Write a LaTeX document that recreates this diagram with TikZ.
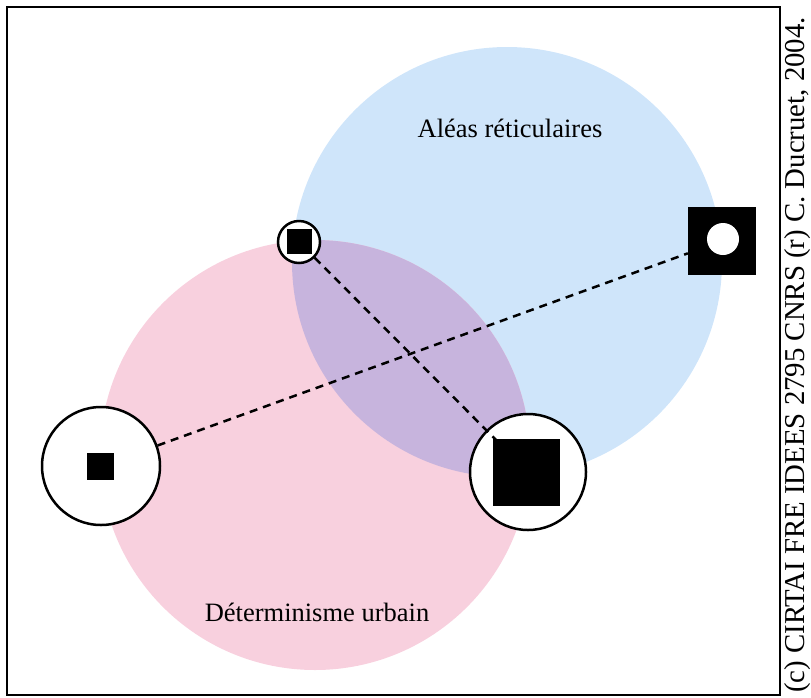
\documentclass[tikz,border=0pt]{standalone}
\usepackage{fontspec}
\setmainfont{Liberation Serif}
\definecolor{blueC}{RGB}{207,229,250}
\definecolor{pinkC}{RGB}{248,208,222}
\definecolor{mixC}{RGB}{199,180,221}
\tikzset{
  ring/.style={circle, draw=black, line width=2.5pt, fill=white, inner sep=0pt},
  sqbox/.style={rectangle, fill=black, inner sep=0pt},
  hole/.style={circle, fill=white, inner sep=0pt},
  link/.style={line width=2.5pt, dash pattern=on 8pt off 6pt},
  label/.style={font=\fontsize{26.5}{30}\selectfont, anchor=base},
}
\begin{document}
\begin{tikzpicture}[x=1pt,y=-1pt]
\useasboundingbox (0,0) rectangle (811,697);
% zones
\fill[blueC] (507,262) circle (215);
\fill[pinkC] (315,455) circle (215);
\begin{scope}
  \clip (507,262) circle (215);
  \fill[mixC] (315,455) circle (215);
\end{scope}
% frame
\draw[line width=2.5pt] (7,7) rectangle (780,695);
% labels
\node[label] (alea) at (510,137) {Aléas réticulaires};
\node[label] (deter) at (317,621) {Déterminisme urbain};
\node[font=\fontsize{28.8}{30}\selectfont, rotate=90, anchor=base] (copy) at (804,355)
  {(c) CIRTAI FRE IDEES 2795 CNRS (r) C. Ducruet, 2004.};
% rings and squares
\node[ring, minimum size=42pt] (s) at (299,242) {};
\node[ring, minimum size=116pt] (b) at (528,472) {};
\node[ring, minimum size=118pt] (l) at (101,466) {};
\node[sqbox, minimum size=68pt] (r) at (722,241) {};
% dashed connectors
\draw[link] (l) -- (r);
\draw[link] (s) -- (b.center);
% inner marks
\node[sqbox, minimum size=25pt] (s1) at (299,241) {};
\node[sqbox, minimum size=67pt] (b1) at (526,472) {};
\node[sqbox, minimum size=27pt] (l1) at (100,466) {};
\node[hole, minimum size=32pt] (r1) at (723,239) {};
\end{tikzpicture}
\end{document}
